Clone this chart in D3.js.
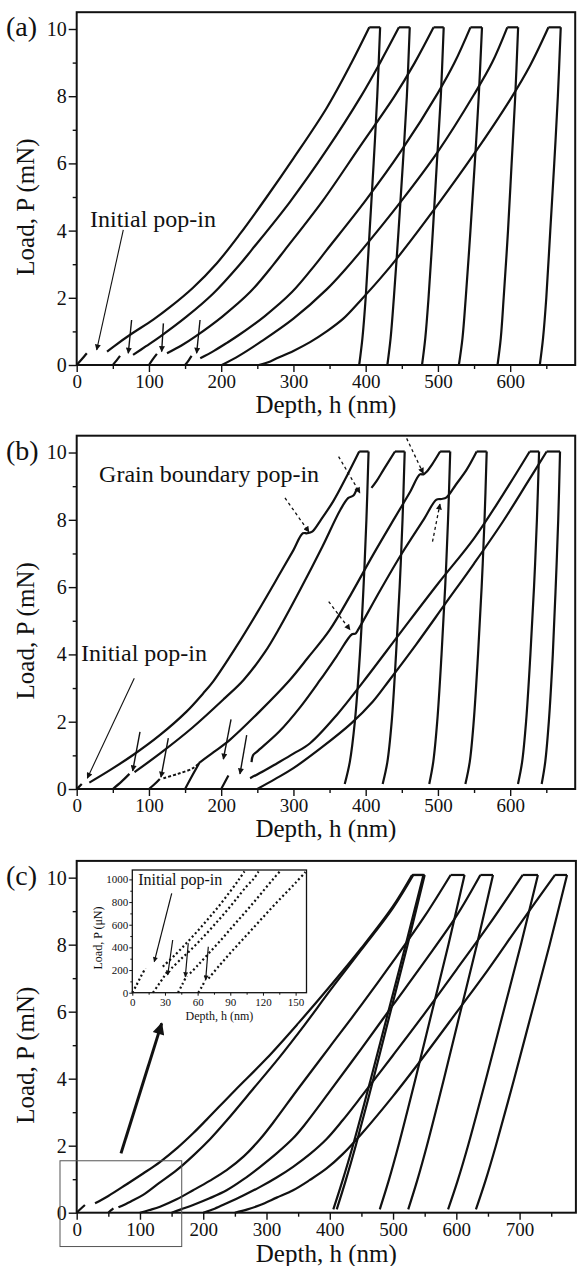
<!DOCTYPE html>
<html>
<head>
<meta charset="utf-8">
<script src="https://cdn.jsdelivr.net/npm/d3@7"></script>
<style>
  body { margin: 0; background: #fff; }
</style>
</head>
<body>
<div id="chart"></div>
<script>
// ---- tick values ----
const loadTicks = [0, 2, 4, 6, 8, 10];
const loadMinor = [1, 3, 5, 7, 9];
const depthTicksAB = [0, 100, 200, 300, 400, 500, 600];
const depthMinorAB = [50, 150, 250, 350, 450, 550, 650];
const depthTicksC = [0, 100, 200, 300, 400, 500, 600, 700];
const depthMinorC = [50, 150, 250, 350, 450, 550, 650, 750];
const insetLoadTicks = [0, 200, 400, 600, 800, 1000];
const insetLoadMinor = [100, 300, 500, 700, 900];
const insetDepthTicks = [0, 30, 60, 90, 120, 150];
const insetDepthMinor = [15, 45, 75, 105, 135];

// ---- (a) depth nm, load mN ----
const loadingA = [
  [[[0, 0], [7, 0.17], [14, 0.35]],
   [[42, 0.4], [53, 0.58], [74, 0.9], [106, 1.35], [129, 1.72], [161, 2.3], [194, 3.03], [226, 3.9], [263, 5.0], [300, 6.15], [346, 7.65], [380, 8.98], [405, 10.05]]],
  [[[50, 0], [55, 0.13], [60, 0.27]],
   [[78, 0.3], [96, 0.56], [115, 0.84], [152, 1.44], [189, 2.13], [226, 3.0], [242, 3.42], [295, 4.85], [346, 6.4], [393, 7.98], [420, 9.0], [446, 10.05]]],
  [[[100, 0], [105, 0.16], [111, 0.33]],
   [[125, 0.35], [145, 0.58], [165, 0.86], [202, 1.45], [240, 2.17], [272, 2.98], [288, 3.42], [341, 4.9], [392, 6.5], [440, 8.0], [468, 9.0], [494, 10.05]]],
  [[[150, 0], [155, 0.14], [159, 0.27]],
   [[171, 0.2], [190, 0.42], [208, 0.66], [225, 0.9], [260, 1.45], [298, 2.17], [330, 2.98], [346, 3.42], [400, 4.9], [450, 6.4], [500, 8.1], [523, 9.0], [545, 10.05]]],
  [[[201, 0], [225, 0.28], [254, 0.68], [300, 1.38], [346, 2.25], [372, 2.85], [390, 3.3], [450, 4.9], [500, 6.35], [550, 8.05], [575, 9.0], [596, 10.05]]],
  [[[252, 0], [265, 0.08], [277, 0.2], [300, 0.42], [323, 0.68], [346, 1.0], [369, 1.38], [392, 1.9], [420, 2.57], [445, 3.22], [500, 4.78], [550, 6.28], [600, 7.9], [628, 8.93], [653, 10.05]]],
];
const holdsA = [[405, 420], [446, 461], [494, 508], [545, 561], [596, 611], [653, 670]];
const unloadA = [
  [[420, 10.05], [416, 8], [411, 6], [405.5, 4], [400, 2], [395.5, 0.8], [391, 0]],
  [[461, 10.05], [457, 8], [451.5, 6], [445.5, 4], [439, 2], [434.5, 0.8], [430, 0]],
  [[508, 10.05], [504, 8], [498.5, 6], [493, 4], [487, 2], [482.5, 0.8], [478, 0]],
  [[561, 10.05], [556.5, 8], [551, 6], [545, 4], [538.5, 2], [534, 0.8], [529, 0]],
  [[611, 10.05], [607, 8], [602, 6], [597, 4], [591, 2], [587, 0.8], [582.5, 0]],
  [[670, 10.05], [666, 8], [661, 6], [655.5, 4], [650, 2], [645.5, 0.8], [641, 0]],
];

// ---- (b) ----
const loadingB = [
  [[[0, 0], [3.5, 0.07], [7, 0.15]],
   [[17.5, 0.19], [46, 0.56], [78, 1.01], [115, 1.6], [152, 2.3], [175, 2.84], [189, 3.2], [220, 4.2], [250, 5.25], [281.5, 6.41], [300, 7.1], [313, 7.6], [319, 7.6], [326, 7.65], [338, 8.0], [355, 8.55], [375, 9.35], [391, 10.03]]],
  [[[50, 0], [62, 0.22], [73, 0.45]],
   [[80, 0.5], [115, 1.05], [160, 1.82], [205, 2.7], [231, 3.24], [260, 4.05], [281, 4.8], [310, 5.95], [340, 7.2], [365, 8.3], [376, 8.65], [383, 8.72], [388, 8.95]],
   [[408, 8.95], [415, 9.15], [425, 9.5], [440.5, 10.03]]],
  [[[100, 0], [108, 0.15], [115, 0.3]],
   [[171, 0.8], [190, 1.1], [212, 1.46], [253, 2.3], [295, 3.24], [320, 3.9], [350, 4.72], [380, 5.8], [410, 6.95], [440, 8.05], [462, 8.85], [475, 9.35], [480, 9.35], [484, 9.42], [492, 9.65], [503, 10.03]]],
  [[[150, 0], [160, 0.4], [170.7, 0.81]],
   [[242, 0.8], [244, 1.0], [250, 1.12], [280, 1.7], [310, 2.45], [337, 3.24], [360, 3.95], [381, 4.6], [386, 4.62], [390, 4.75], [420, 5.9], [450, 7.0], [480, 8.0], [498, 8.6], [505, 8.62], [512, 8.67], [525, 9.05], [540, 9.5], [553.6, 10.03]]],
  [[[200, 0], [205, 0.2], [210, 0.4]],
   [[240, 0.32], [260, 0.55], [277, 0.76], [300, 1.05], [323, 1.36], [360, 2.2], [397, 3.2], [450, 4.7], [500, 6.1], [550, 7.45], [590, 8.75], [627, 10.03]]],
  [[[250, 0], [275, 0.3], [300, 0.62], [340, 1.25], [380, 1.95], [410, 2.6], [433, 3.24], [470, 4.3], [510, 5.5], [550, 6.7], [590, 7.95], [625, 9.15], [650.5, 10.03]]],
];
const sparseB = [[[120, 0.32], [140, 0.45], [161, 0.62], [171, 0.8]]];
const holdsB = [[391, 404], [440.5, 454], [503, 517], [553.6, 567.5], [627, 640], [650.5, 669]];
const unloadB = [
  [[404, 10.03], [401, 8], [397, 6], [392, 4], [385, 2], [378, 0.8], [371, 0.15]],
  [[454, 10.03], [451, 8], [447, 6], [442, 4], [436, 2], [430, 0.8], [423.5, 0.15]],
  [[517, 10.03], [514, 8], [510, 6], [505, 4], [499, 2], [493.5, 0.8], [488, 0.15]],
  [[567.5, 10.03], [564.5, 8], [560.5, 6], [555.5, 4], [549.5, 2], [544, 0.8], [538, 0.15]],
  [[640, 10.03], [637, 8], [633, 6], [628, 4], [622, 2], [616.5, 0.8], [610.8, 0.15]],
  [[669, 10.03], [666.5, 8], [663, 6], [659, 4], [653.5, 2], [648.5, 0.8], [643.6, 0.15]],
];

// ---- (c) ----
const loadingC = [
  [[[0, 0], [6, 0.11], [13, 0.23]],
   [[29, 0.28], [50, 0.5], [79, 0.85], [105, 1.17], [132, 1.52], [160, 1.95], [184, 2.37], [205, 2.77], [250, 3.65], [300, 4.6], [350, 5.65], [400, 6.75], [450, 7.9], [500, 9.15], [530, 10.08]]],
  [[[50, 0], [54, 0.07], [58, 0.13]],
   [[66, 0.16], [85, 0.33], [105, 0.53], [130, 0.88], [158, 1.27], [185, 1.72], [211, 2.2], [237, 2.75], [280, 3.72], [320, 4.63], [360, 5.6], [400, 6.62], [450, 7.85], [500, 9.1], [532, 10.08]]],
  [[[100, 0], [115, 0.08], [131.7, 0.18], [158, 0.4], [184, 0.67], [210, 0.95], [237, 1.27], [264, 1.68], [290, 2.2], [311, 2.7], [350, 3.7], [400, 4.95], [450, 6.2], [500, 7.5], [550, 8.85], [591, 10.08]]],
  [[[150, 0], [165, 0.1], [184, 0.23], [210, 0.43], [237, 0.67], [264, 1.0], [290, 1.37], [316, 1.77], [342, 2.22], [361, 2.64], [400, 3.62], [450, 4.9], [500, 6.2], [550, 7.5], [600, 8.85], [638, 10.08]]],
  [[[200, 0], [218, 0.12], [237, 0.28], [264, 0.52], [290, 0.77], [316, 1.05], [342, 1.37], [368, 1.74], [395, 2.2], [420, 2.75], [450, 3.47], [500, 4.7], [550, 5.95], [600, 7.25], [650, 8.55], [705, 10.08]]],
  [[[250, 0], [270, 0.1], [290, 0.23], [316, 0.45], [342, 0.67], [368, 0.97], [395, 1.32], [420, 1.74], [450, 2.35], [500, 3.48], [550, 4.7], [600, 5.97], [650, 7.25], [700, 8.6], [756, 10.08]]],
];
const holdsC = [[530, 548], [532, 550], [591, 613], [638, 658], [705, 729], [756, 775]];
const unloadC = [
  [[548, 10.08], [520, 8], [492.5, 6], [465, 4], [436.5, 2], [420, 0.95], [405.6, 0.1]],
  [[550, 10.08], [523, 8], [496, 6], [469, 4], [441, 2], [425, 0.95], [411, 0.1]],
  [[613, 10.08], [587.5, 8], [561.5, 6], [535.5, 4], [508.5, 2], [493, 0.95], [479, 0.1]],
  [[658, 10.08], [632.5, 8], [606.5, 6], [580.5, 4], [553.5, 2], [538, 0.95], [524, 0.1]],
  [[729, 10.08], [702, 8], [674.5, 6], [647, 4], [618.5, 2], [602, 0.95], [587, 0.1]],
  [[775, 10.08], [747.5, 8], [719.5, 6], [691.5, 4], [662.5, 2], [646, 0.95], [631, 0.1]],
];

// ---- (c) inset, depth nm, load uN ----
const insetCurves = [
  [[[0, 0], [4, 70], [8, 145], [12, 215]],
   [[28, 230], [40, 340], [50, 440], [60, 545], [70, 655], [80, 770], [90, 895], [98, 1000], [103, 1070]]],
  [[[19, 0], [24, 70], [29, 140], [33, 200]],
   [[36, 215], [45, 300], [55, 390], [65, 490], [75, 595], [85, 705], [95, 820], [105, 940], [111, 1000], [116, 1070]]],
  [[[42, 0], [46, 75], [50, 150]],
   [[53, 170], [60, 240], [70, 345], [80, 450], [90, 560], [100, 670], [110, 780], [120, 895], [130, 1010], [136, 1075]]],
  [[[60.6, 0], [64, 55], [67, 110]],
   [[70, 125], [80, 240], [90, 350], [100, 455], [110, 560], [120, 665], [130, 770], [140, 870], [150, 970], [159, 1065]]],
];

const FONT = '"Liberation Serif", "Times New Roman", Times, serif';
const INK = '#111';

const svg = d3.select('#chart')
  .append('svg')
  .attr('width', 577)
  .attr('height', 1266)
  .style('background', '#fff');

// arrow heads
const defs = svg.append('defs');
function marker(id, w, h) {
  defs.append('marker')
    .attr('id', id)
    .attr('viewBox', '0 0 10 10')
    .attr('refX', 9)
    .attr('refY', 5)
    .attr('markerWidth', w)
    .attr('markerHeight', h)
    .attr('markerUnits', 'userSpaceOnUse')
    .attr('orient', 'auto')
    .append('path')
    .attr('d', 'M0,0L10,5L0,10Z')
    .attr('fill', INK);
}
marker('head', 11, 6);
marker('headBig', 20, 12);
marker('headSmall', 9, 5);

// panel layouts
const panels = [
  {
    label: '(a)', left: 76.7, right: 575.2, top: 12.2, bottom: 365, xMax: 690,
    xTicks: depthTicksAB, xMinor: depthMinorAB, loading: loadingA, holds: holdsA,
    holdP: 10.05, unloading: unloadA, titleGap: 48,
    texts: [{ t: 'Initial pop-in', at: [18.4, 4.1], size: 24 }],
    arrows: [
      { from: [64.5, 4.02], to: [27.7, 0.45], w: 1.1 },
      { from: [76, 1.34], to: [71.4, 0.35], w: 1.4 },
      { from: [120, 1.24], to: [117.6, 0.4], w: 1.4 },
      { from: [170.7, 1.34], to: [166, 0.35], w: 1.4 },
    ],
  },
  {
    label: '(b)', left: 76.7, right: 575.2, top: 435.7, bottom: 789, xMax: 690,
    xTicks: depthTicksAB, xMinor: depthMinorAB, loading: loadingB, holds: holdsB,
    holdP: 10.03, unloading: unloadB, sparse: sparseB, titleGap: 48,
    texts: [
      { t: 'Initial pop-in', at: [6, 3.8], size: 24 },
      { t: 'Grain boundary pop-in', at: [31, 9.12], size: 24 },
    ],
    arrows: [
      { from: [79.7, 3.29], to: [14.7, 0.32], w: 1.1 },
      { from: [87.6, 1.7], to: [77.5, 0.54], w: 1.4 },
      { from: [126.8, 1.51], to: [116.7, 0.35], w: 1.4 },
      { from: [213.6, 2.07], to: [203, 0.89], w: 1.4 },
      { from: [235.3, 1.6], to: [226, 0.45], w: 1.4 },
      { from: [288.3, 8.65], to: [321.5, 7.64], w: 1.3, dash: '3,3' },
      { from: [362.5, 9.88], to: [392, 8.8], w: 1.3, dash: '3,3' },
      { from: [456.7, 10.42], to: [479.7, 9.38], w: 1.3, dash: '3,3' },
      { from: [492.5, 7.35], to: [502.8, 8.47], w: 1.3, dash: '3,3' },
      { from: [348.8, 5.57], to: [378.3, 4.73], w: 1.3, dash: '3,3' },
    ],
  },
  {
    label: '(c)', left: 76.7, right: 575.9, top: 860.9, bottom: 1212.7, xMax: 789,
    xTicks: depthTicksC, xMinor: depthMinorC, loading: loadingC, holds: holdsC,
    holdP: 10.08, unloading: unloadC, titleGap: 49,
    texts: [],
    arrows: [
      { from: [70, 1.77], to: [134.3, 5.65], w: 3, head: 'headBig' },
    ],
    box: [[-26.4, 1.55], [166, -1.01]],
    inset: { left: 132.3, right: 306.5, top: 870, bottom: 992.7, xMax: 160, yMax: 1083 },
  },
];

function styleAxis(g, size) {
  g.select('.domain').remove();
  g.selectAll('line').attr('stroke', INK).attr('stroke-width', 1.4);
  g.selectAll('text')
    .attr('font-family', FONT)
    .attr('font-size', size)
    .attr('fill', INK);
}

panels.forEach((p) => {
  const x = d3.scaleLinear().domain([0, p.xMax]).range([p.left, p.right]);
  const y = d3.scaleLinear().domain([0, 10.5]).range([p.bottom, p.top]);
  const line = d3.line()
    .x((d) => x(d[0]))
    .y((d) => y(d[1]))
    .curve(d3.curveCatmullRom.alpha(0.5));
  const g = svg.append('g');

  // axes with outward ticks
  g.append('g')
    .attr('transform', `translate(0,${p.bottom})`)
    .call(d3.axisBottom(x).tickValues(p.xMinor).tickSize(4).tickFormat(''))
    .call((s) => styleAxis(s, 19));
  g.append('g')
    .attr('transform', `translate(0,${p.bottom})`)
    .call(d3.axisBottom(x).tickValues(p.xTicks).tickSize(7).tickPadding(3).tickFormat(d3.format('d')))
    .call((s) => styleAxis(s, 19));
  g.append('g')
    .attr('transform', `translate(${p.left},0)`)
    .call(d3.axisLeft(y).tickValues(loadMinor).tickSize(4).tickFormat(''))
    .call((s) => styleAxis(s, 19));
  g.append('g')
    .attr('transform', `translate(${p.left},0)`)
    .call(d3.axisLeft(y).tickValues(loadTicks).tickSize(8).tickPadding(2).tickFormat(d3.format('d')))
    .call((s) => styleAxis(s, 20));

  // frame
  g.append('rect')
    .attr('x', p.left)
    .attr('y', p.top)
    .attr('width', p.right - p.left)
    .attr('height', p.bottom - p.top)
    .attr('fill', 'none')
    .attr('stroke', INK)
    .attr('stroke-width', 2);

  // loading segments
  p.loading.forEach((curve) => {
    curve.forEach((seg) => {
      g.append('path')
        .attr('d', line(seg))
        .attr('fill', 'none')
        .attr('stroke', INK)
        .attr('stroke-width', 2.2);
    });
  });
  (p.sparse || []).forEach((seg) => {
    g.append('path')
      .attr('d', line(seg))
      .attr('fill', 'none')
      .attr('stroke', INK)
      .attr('stroke-width', 2)
      .attr('stroke-dasharray', '3,2');
  });
  // hold at peak load
  p.holds.forEach((h) => {
    g.append('line')
      .attr('x1', x(h[0]))
      .attr('x2', x(h[1]))
      .attr('y1', y(p.holdP))
      .attr('y2', y(p.holdP))
      .attr('stroke', INK)
      .attr('stroke-width', 2.2);
  });
  // unloading
  p.unloading.forEach((u) => {
    g.append('path')
      .attr('d', line(u))
      .attr('fill', 'none')
      .attr('stroke', INK)
      .attr('stroke-width', 2.2);
  });

  // annotations
  p.texts.forEach((t) => {
    g.append('text')
      .attr('x', x(t.at[0]))
      .attr('y', y(t.at[1]))
      .attr('font-family', FONT)
      .attr('font-size', t.size)
      .attr('fill', INK)
      .text(t.t);
  });
  p.arrows.forEach((a) => {
    g.append('line')
      .attr('x1', x(a.from[0]))
      .attr('y1', y(a.from[1]))
      .attr('x2', x(a.to[0]))
      .attr('y2', y(a.to[1]))
      .attr('stroke', INK)
      .attr('stroke-width', a.w)
      .attr('stroke-dasharray', a.dash || null)
      .attr('marker-end', `url(#${a.head || 'head'})`);
  });

  // titles
  g.append('text')
    .attr('x', 6)
    .attr('y', y(10) + 7)
    .attr('font-family', FONT)
    .attr('font-size', 28)
    .attr('fill', INK)
    .text(p.label);
  g.append('text')
    .attr('transform', `translate(34,${y(4.7)}) rotate(-90)`)
    .attr('text-anchor', 'middle')
    .attr('font-family', FONT)
    .attr('font-size', 25)
    .attr('fill', INK)
    .text('Load, P (mN)');
  g.append('text')
    .attr('x', (p.left + p.right) / 2)
    .attr('y', p.bottom + p.titleGap)
    .attr('text-anchor', 'middle')
    .attr('font-family', FONT)
    .attr('font-size', 25)
    .attr('fill', INK)
    .text('Depth, h (nm)');

  // zoom box and inset for (c)
  if (p.box) {
    g.append('rect')
      .attr('x', x(p.box[0][0]))
      .attr('y', y(p.box[0][1]))
      .attr('width', x(p.box[1][0]) - x(p.box[0][0]))
      .attr('height', y(p.box[1][1]) - y(p.box[0][1]))
      .attr('fill', 'none')
      .attr('stroke', '#555')
      .attr('stroke-width', 1);
  }
  if (p.inset) {
    const q = p.inset;
    const xi = d3.scaleLinear().domain([0, q.xMax]).range([q.left, q.right]);
    const yi = d3.scaleLinear().domain([0, q.yMax]).range([q.bottom, q.top]);
    const li = d3.line()
      .x((d) => xi(d[0]))
      .y((d) => yi(d[1]))
      .curve(d3.curveCatmullRom.alpha(0.5));
    const gi = g.append('g');
    gi.append('rect')
      .attr('x', q.left)
      .attr('y', q.top)
      .attr('width', q.right - q.left)
      .attr('height', q.bottom - q.top)
      .attr('fill', '#fff');
    gi.append('g')
      .attr('transform', `translate(0,${q.bottom})`)
      .call(d3.axisBottom(xi).tickValues(insetDepthMinor).tickSize(2).tickFormat(''))
      .call((s) => styleAxis(s, 11));
    gi.append('g')
      .attr('transform', `translate(0,${q.bottom})`)
      .call(d3.axisBottom(xi).tickValues(insetDepthTicks).tickSize(3).tickPadding(2.5).tickFormat(d3.format('d')))
      .call((s) => styleAxis(s, 11));
    gi.append('g')
      .attr('transform', `translate(${q.left},0)`)
      .call(d3.axisLeft(yi).tickValues(insetLoadMinor).tickSize(2).tickFormat(''))
      .call((s) => styleAxis(s, 11));
    gi.append('g')
      .attr('transform', `translate(${q.left},0)`)
      .call(d3.axisLeft(yi).tickValues(insetLoadTicks).tickSize(3).tickPadding(1).tickFormat(d3.format('d')))
      .call((s) => styleAxis(s, 11));
    gi.selectAll('.tick line').attr('stroke-width', 1);
    gi.append('rect')
      .attr('x', q.left)
      .attr('y', q.top)
      .attr('width', q.right - q.left)
      .attr('height', q.bottom - q.top)
      .attr('fill', 'none')
      .attr('stroke', INK)
      .attr('stroke-width', 1.3);
    insetCurves.forEach((curve) => {
      curve.forEach((seg) => {
        gi.append('path')
          .attr('d', li(seg))
          .attr('fill', 'none')
          .attr('stroke', INK)
          .attr('stroke-width', 2.2)
          .attr('stroke-dasharray', '2,2.6');
      });
    });
    gi.append('text')
      .attr('x', xi(5.5))
      .attr('y', yi(947))
      .attr('font-family', FONT)
      .attr('font-size', 16)
      .attr('fill', INK)
      .text('Initial pop-in');
    const insetArrows = [
      { from: [36.2, 877], to: [20.2, 274] },
      { from: [37.1, 465], to: [32.5, 156] },
      { from: [51.4, 436], to: [48.7, 141] },
      { from: [69.8, 406], to: [67.4, 112] },
    ];
    insetArrows.forEach((a) => {
      gi.append('line')
        .attr('x1', xi(a.from[0]))
        .attr('y1', yi(a.from[1]))
        .attr('x2', xi(a.to[0]))
        .attr('y2', yi(a.to[1]))
        .attr('stroke', INK)
        .attr('stroke-width', 1.2)
        .attr('marker-end', 'url(#headSmall)');
    });
    gi.append('text')
      .attr('transform', `translate(102,${yi(483)}) rotate(-90)`)
      .attr('text-anchor', 'middle')
      .attr('font-family', FONT)
      .attr('font-size', 12)
      .attr('fill', INK)
      .text('Load, P (\u03bcN)');
    gi.append('text')
      .attr('x', xi(80))
      .attr('y', q.bottom + 27)
      .attr('text-anchor', 'middle')
      .attr('font-family', FONT)
      .attr('font-size', 12)
      .attr('fill', INK)
      .text('Depth, h (nm)');
  }
});
</script>
</body>
</html>
